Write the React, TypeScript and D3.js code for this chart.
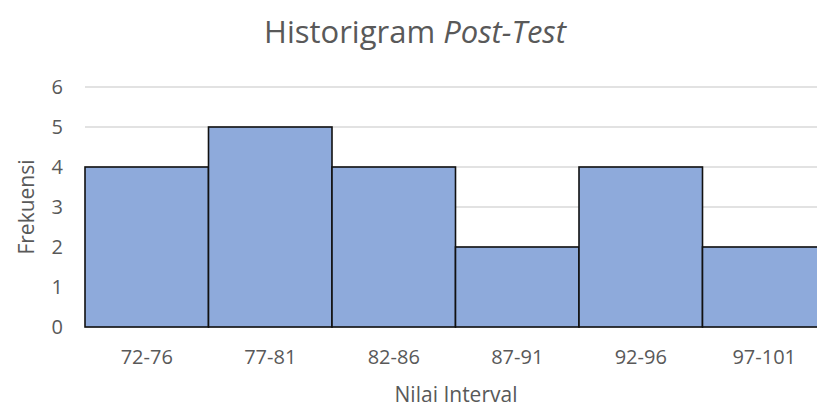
import React from "react"
import * as d3 from "d3"

// histogram data
const intervals = ["72-76", "77-81", "82-86", "87-91", "92-96", "97-101"]
const frekuensi = [4, 5, 4, 2, 4, 2]
const yTicks = [0, 1, 2, 3, 4, 5, 6]

const W = 817, H = 408
const margin = { top: 87, right: -9, bottom: 81, left: 85 }
const font = "'Open Sans', 'Liberation Sans', sans-serif"
const textCol = "#595959"

export default function App() {
  const x = d3.scaleBand<string>()
    .domain(intervals)
    .range([margin.left, W - margin.right])
    .padding(0)
  const y = d3.scaleLinear()
    .domain([0, 6])
    .range([H - margin.bottom, margin.top])

  return (
    <svg width={W} height={H} style={{ position: "absolute", left: 0, top: 0, background: "#fff" }}>
      <text x={415} y={43} textAnchor="middle" fontFamily={font} fontSize={31} fill={textCol}>
        Historigram <tspan fontStyle="italic">Post-Test</tspan>
      </text>

      {/* gridlines */}
      {yTicks.map(t => (
        <line key={"g" + t} x1={margin.left} x2={W} y1={y(t)} y2={y(t)} stroke="#d9d9d9" strokeWidth={1.3} />
      ))}

      {/* bars */}
      {intervals.map((c, i) => (
        <rect key={c}
          x={x(c)} y={y(frekuensi[i])}
          width={x.bandwidth()} height={y(0) - y(frekuensi[i])}
          fill="#8eaadb" stroke="#111" strokeWidth={1.6} />
      ))}

      {/* y tick labels */}
      {yTicks.map(t => (
        <text key={"y" + t} x={63} y={y(t)} dy="0.36em" textAnchor="end"
          fontFamily={font} fontSize={20} fill={textCol}>{t}</text>
      ))}

      {/* x tick labels */}
      {intervals.map(c => (
        <text key={"x" + c} x={(x(c) as number) + x.bandwidth() / 2} y={364} textAnchor="middle"
          fontFamily={font} fontSize={20} fill={textCol}>{c}</text>
      ))}

      <text x={456} y={402} textAnchor="middle" fontFamily={font} fontSize={21} fill={textCol}>Nilai Interval</text>
      <text transform={`translate(34,${207}) rotate(-90)`} textAnchor="middle"
        fontFamily={font} fontSize={21} fill={textCol}>Frekuensi</text>
    </svg>
  )
}
